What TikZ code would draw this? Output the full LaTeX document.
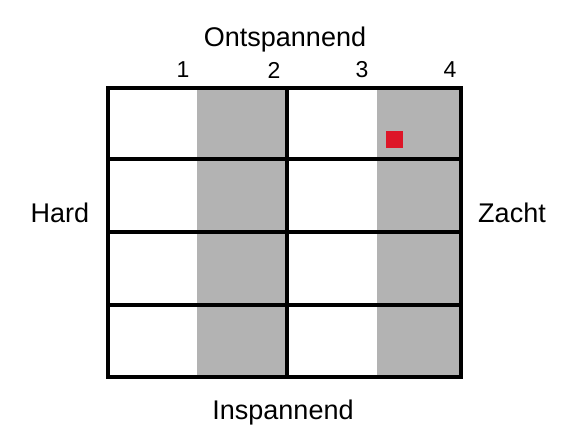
\documentclass[tikz,border=0pt]{standalone}
\usepackage{fontspec}
\setmainfont{Liberation Sans}
\definecolor{kolomgrijs}{RGB}{179,179,179}
\definecolor{punt}{RGB}{221,22,40}
\tikzset{
  rand/.style={line width=4.5pt},
  label/.style={inner sep=0pt,font=\fontsize{27}{30}\selectfont},
  nummer/.style={inner sep=0pt,font=\fontsize{23}{26}\selectfont}
}
\begin{document}
\begin{tikzpicture}[x=1pt,y=-1pt]
\useasboundingbox (0,0) rectangle (562,427);

\fill[kolomgrijs] (197,88) rectangle (287,377);
\fill[kolomgrijs] (377,88) rectangle (461,377);
\fill[punt] (386,131) rectangle (403,148);

\draw[rand] (108,88) rectangle (461,377);
\draw[rand] (287,88) -- (287,377);
\foreach \y in {159,232,305}
  \draw[rand] (108,\y) -- (461,\y);

\node[label] (ontspannend) at (285,40) {Ontspannend};
\node[label] (inspannend) at (283,413) {Inspannend};
\node[label] (hard) at (60,213) {Hard};
\node[label] (zacht) at (512,213) {Zacht};

\node[nummer] (n1) at (183,70) {1};
\node[nummer] (n2) at (274,70) {2};
\node[nummer] (n3) at (362,70) {3};
\node[nummer] (n4) at (450,70) {4};
\end{tikzpicture}
\end{document}
